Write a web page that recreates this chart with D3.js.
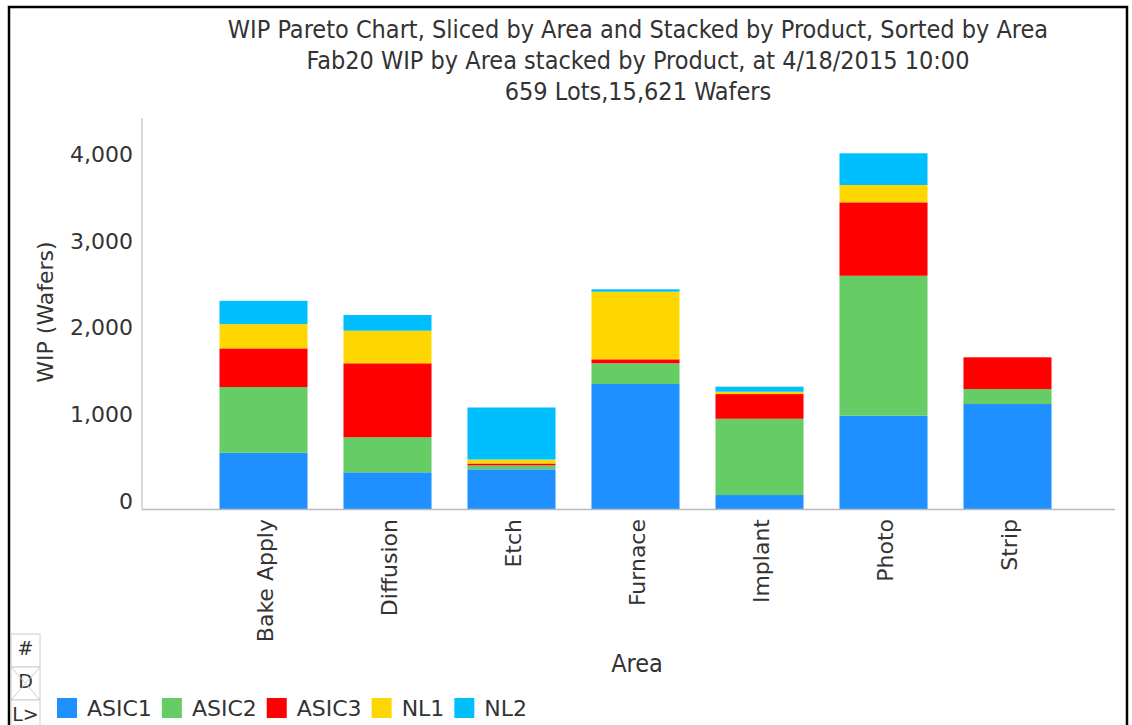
<!DOCTYPE html>
<html>
<head>
<meta charset="utf-8">
<script src="https://cdn.jsdelivr.net/npm/d3@7"></script>
<style>
  body { margin: 0; background: #fff; }
  .title { font-family: "DejaVu Sans Condensed", "Liberation Sans Narrow", "DejaVu Sans", sans-serif; font-size: 25px; fill: #333; }
  .tick-label { font-family: "DejaVu Sans", sans-serif; font-size: 22px; fill: #333; }
  .legend-label { font-family: "DejaVu Sans", sans-serif; font-size: 22px; fill: #333; }
  .icon-text { font-family: "DejaVu Sans", sans-serif; font-size: 19px; fill: #333; }
</style>
</head>
<body>
<div class="content"></div>
<script>
// DATA
var areas = ['Bake Apply', 'Diffusion', 'Etch', 'Furnace', 'Implant', 'Photo', 'Strip'];
var products = ['ASIC1', 'ASIC2', 'ASIC3', 'NL1', 'NL2'];
var asic1 = [655, 429, 464, 1448, 167, 1082, 1217];
var asic2 = [758, 404, 45, 239, 880, 1615, 173];
var asic3 = [446, 854, 22, 46, 285, 847, 366];
var nl1 = [280, 376, 46, 780, 27, 200, 0];
var nl2 = [269, 181, 600, 28, 58, 366, 0];
var yTicks = [0, 1000, 2000, 3000, 4000];
var titles = [
    'WIP Pareto Chart, Sliced by Area and Stacked by Product, Sorted by Area',
    'Fab20 WIP by Area stacked by Product, at 4/18/2015 10:00',
    '659 Lots,15,621 Wafers'
];

// VARIABLES
var w = 1132,
    h = 725,
    colors = ['#1E90FF', '#66CC66', '#FF0000', '#FFD700', '#00BFFF'];

var svg = d3.select('.content').append('svg')
    .attr('width', w)
    .attr('height', h);

// build rows for the stack
var series = [asic1, asic2, asic3, nl1, nl2];
var rows = areas.map(function(a, i) {
    var row = { area: a };
    products.forEach(function(p, j) { row[p] = series[j][i]; });
    return row;
});
var stacked = d3.stack().keys(products)(rows);

// SCALES
var x = d3.scaleBand()
    .domain(areas)
    .range([201.5, 1069.5])
    .paddingInner(0.29)
    .paddingOuter(0.145);

var y = d3.scaleLinear()
    .domain([0, 4500])
    .range([509.5, 119.5]);

var color = d3.scaleOrdinal().domain(products).range(colors);

// FRAME
svg.append('path')
    .attr('d', 'M9,' + (h + 5) + 'V7H1127V' + (h + 5))
    .attr('fill', 'none')
    .attr('stroke', '#000')
    .attr('stroke-width', 2.5);

// TITLES
svg.selectAll('.title')
    .data(titles)
    .enter()
    .append('text')
    .attr('class', 'title')
    .attr('x', 638)
    .attr('y', function(d, i) { return 38 + i * 31; })
    .attr('text-anchor', 'middle')
    .text(function(d) { return d; });

// AXIS LINES
svg.append('line')
    .attr('x1', 142).attr('x2', 142)
    .attr('y1', 118).attr('y2', y(0))
    .attr('stroke', '#ccc').attr('stroke-width', 1.5);

// BARS
svg.selectAll('.layer')
    .data(stacked)
    .enter()
    .append('g')
    .attr('class', 'layer')
    .attr('fill', function(d) { return color(d.key); })
    .selectAll('rect')
    .data(function(d) { return d; })
    .enter()
    .append('rect')
    .attr('x', function(d) { return x(d.data.area); })
    .attr('width', x.bandwidth())
    .attr('y', function(d) { return y(d[1]); })
    .attr('height', function(d) { return y(d[0]) - y(d[1]); });

svg.append('line')
    .attr('x1', 142).attr('x2', 1115)
    .attr('y1', y(0)).attr('y2', y(0))
    .attr('stroke', '#bbb').attr('stroke-width', 1.5);

// Y TICK LABELS
svg.selectAll('.y-label')
    .data(yTicks)
    .enter()
    .append('text')
    .attr('class', 'tick-label')
    .attr('x', 133)
    .attr('y', function(d) { return y(d) - 1; })
    .attr('text-anchor', 'end')
    .text(d3.format(','));

// X TICK LABELS
svg.selectAll('.x-label')
    .data(areas)
    .enter()
    .append('text')
    .attr('class', 'tick-label')
    .attr('transform', function(d) { return 'translate(' + (x(d) + x.bandwidth() / 2) + ',519) rotate(-90)'; })
    .attr('dy', '0.45em')
    .attr('text-anchor', 'end')
    .text(function(d) { return d; });

// AXIS TITLES
svg.append('text')
    .attr('class', 'tick-label')
    .attr('transform', 'translate(45,312) rotate(-90)')
    .attr('dy', '0.35em')
    .attr('text-anchor', 'middle')
    .text('WIP (Wafers)');

svg.append('text')
    .attr('class', 'title')
    .attr('x', 637)
    .attr('y', 672)
    .attr('text-anchor', 'middle')
    .text('Area');

// LEGEND
var lx = 57;
products.forEach(function(p) {
    svg.append('rect')
        .attr('x', lx).attr('y', 698)
        .attr('width', 20).attr('height', 20)
        .attr('fill', color(p));
    var t = svg.append('text')
        .attr('class', 'legend-label')
        .attr('x', lx + 30)
        .attr('y', 716)
        .text(p);
    lx += 30 + t.node().getComputedTextLength() + 10;
});

// SIDE ICONS
var icons = [['#', 634], ['D', 667], ['L>', 700]];
icons.forEach(function(ic) {
    svg.append('rect')
        .attr('x', 11).attr('y', ic[1])
        .attr('width', 29).attr('height', 33)
        .attr('fill', '#fff').attr('stroke', '#ccc');
    svg.append('text')
        .attr('class', 'icon-text')
        .attr('x', 25.5).attr('y', ic[1] + 21)
        .attr('text-anchor', 'middle')
        .text(ic[0]);
});
svg.append('path')
    .attr('d', 'M11,667L40,700M40,667L11,700')
    .attr('stroke', '#ccc').attr('fill', 'none');
</script>
</body>
</html>
